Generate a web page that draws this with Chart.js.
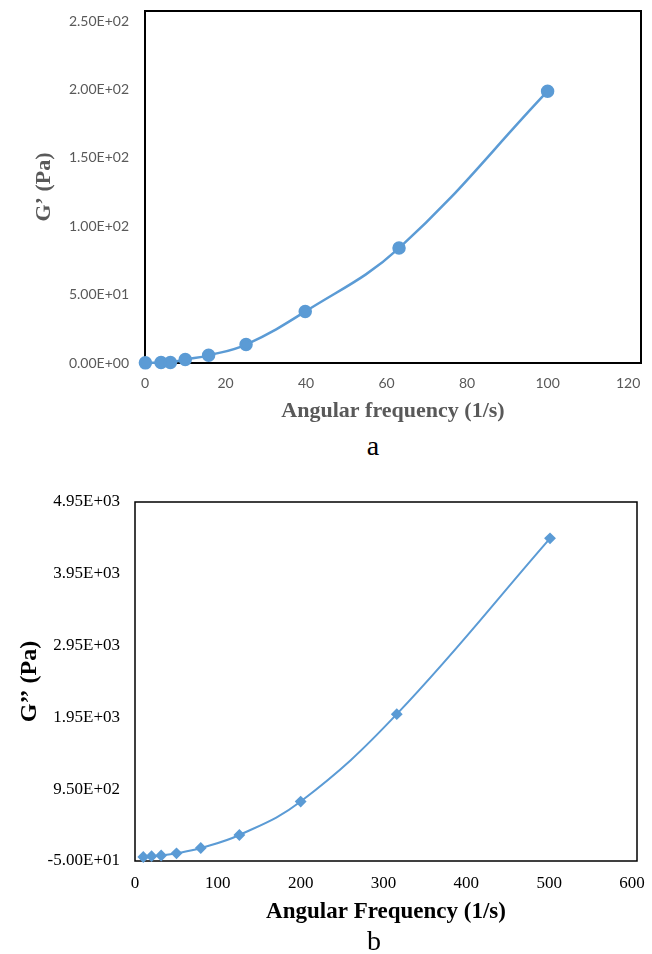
<!DOCTYPE html>
<html>
<head>
<meta charset="utf-8">
<script src="https://cdn.jsdelivr.net/npm/chart.js@4/dist/chart.umd.min.js"></script>
<style>
  html, body { margin: 0; padding: 0; background: #fff; }
  body { width: 652px; height: 954px; position: relative; overflow: hidden; }
  canvas { position: absolute; left: 0; }
  .lbl { position: absolute; font-family: "Liberation Serif", "Times New Roman", serif; font-size: 28px; line-height: 1; color: #000; transform: translate(-50%, -50%); }
</style>
</head>
<body>
<canvas id="c1" width="652" height="430" style="top:0px"></canvas>
<canvas id="c2" width="652" height="462" style="top:480px"></canvas>
<div class="lbl" style="left:373px; top:446px;">a</div>
<div class="lbl" style="left:374px; top:941px;">b</div>
<script>
// ---- Chart a: G' vs angular frequency ----
const freqA = [0.1, 3.98, 6.31, 10, 15.8, 25.1, 39.8, 63.1, 100];
const gPrimeA = [0.1, 0.3, 0.4, 2.5, 5.6, 13.5, 37.6, 84, 198.7];
const xTicksA = [0, 20, 40, 60, 80, 100, 120];
const yTicksA = [0, 50, 100, 150, 200, 250];

// ---- Chart b: G'' vs angular frequency ----
const freqB = [10, 20, 31.6, 50.1, 79.4, 126, 200, 316, 501];
const gDoublePrimeB = [6, 17, 27, 57, 131, 312, 778, 1995, 4444];
const xTicksB = [0, 100, 200, 300, 400, 500, 600];
const yTicksB = [-50, 950, 1950, 2950, 3950, 4950];

function sci(v) {
  const s = Number(v).toExponential(2);
  const parts = s.split('e');
  const sign = parts[1][0];
  const d = parts[1].slice(1).padStart(2, '0');
  return parts[0] + 'E' + sign + d;
}

function noPad(s) {
  s.paddingTop = 0; s.paddingBottom = 0; s.paddingLeft = 0; s.paddingRight = 0;
}

function boxPlugin(width) {
  return {
    id: 'box',
    beforeDatasetsDraw(chart) {
      const a = chart.chartArea;
      const ctx = chart.ctx;
      ctx.save();
      ctx.strokeStyle = '#000';
      ctx.lineWidth = width;
      ctx.strokeRect(a.left, a.top, a.right - a.left, a.bottom - a.top);
      ctx.restore();
    }
  };
}

const blue = '#5B9BD5';

new Chart(document.getElementById('c1'), {
  type: 'scatter',
  data: {
    datasets: [{
      data: freqA.map((x, i) => ({ x: x, y: gPrimeA[i] })),
      showLine: true,
      borderColor: blue,
      backgroundColor: blue,
      borderWidth: 2.5,
      pointRadius: 5.5,
      pointHoverRadius: 5.5,
      pointStyle: 'circle',
      tension: 0.4,
      clip: false
    }]
  },
  options: {
    responsive: false,
    animation: false,
    events: [],
    layout: { padding: { left: 0, top: 11, right: 11, bottom: 0 } },
    plugins: { legend: { display: false }, tooltip: { enabled: false } },
    scales: {
      x: {
        type: 'linear',
        min: 0,
        max: 123.2,
        grid: { display: false, drawTicks: false },
        border: { display: false },
        afterBuildTicks: s => { s.ticks = xTicksA.map(v => ({ value: v })); },
        afterFit: s => { s.height = 67; noPad(s); },
        ticks: {
          padding: 12,
          color: '#595959',
          font: { family: 'Lato', size: 14 },
          maxRotation: 0
        },
        title: {
          display: true,
          text: 'Angular frequency (1/s)',
          color: '#595959',
          font: { family: '"Liberation Serif"', size: 22, weight: 'bold' },
          padding: { top: 0, bottom: 5 }
        }
      },
      y: {
        type: 'linear',
        min: 0,
        max: 257.3,
        grid: { display: false, drawTicks: false },
        border: { display: false },
        afterBuildTicks: s => { s.ticks = yTicksA.map(v => ({ value: v })); },
        afterFit: s => { s.width = 145; noPad(s); },
        ticks: {
          padding: 16,
          color: '#595959',
          font: { family: 'Lato', size: 14 },
          callback: v => sci(v)
        },
        title: {
          display: true,
          text: 'G’ (Pa)',
          color: '#595959',
          font: { family: '"Liberation Serif"', size: 22, weight: 'bold' },
          padding: { top: 31, bottom: 0 }
        }
      }
    }
  },
  plugins: [boxPlugin(2)]
});

new Chart(document.getElementById('c2'), {
  type: 'scatter',
  data: {
    datasets: [{
      data: freqB.map((x, i) => ({ x: x, y: gDoublePrimeB[i] })),
      showLine: true,
      borderColor: blue,
      backgroundColor: blue,
      borderWidth: 2,
      pointRadius: 4.5,
      pointHoverRadius: 4.5,
      pointStyle: 'rectRot',
      tension: 0.4,
      clip: false
    }]
  },
  options: {
    responsive: false,
    animation: false,
    events: [],
    layout: { padding: { left: 0, top: 22, right: 15, bottom: 0 } },
    plugins: { legend: { display: false }, tooltip: { enabled: false } },
    scales: {
      x: {
        type: 'linear',
        min: 0,
        max: 606,
        grid: { display: false, drawTicks: false },
        border: { display: false },
        afterBuildTicks: s => { s.ticks = xTicksB.map(v => ({ value: v })); },
        afterFit: s => { s.height = 81; noPad(s); },
        ticks: {
          padding: 12,
          color: '#000',
          font: { family: '"Liberation Serif"', size: 17 },
          maxRotation: 0
        },
        title: {
          display: true,
          text: 'Angular Frequency (1/s)',
          color: '#000',
          font: { family: '"Liberation Serif"', size: 23, weight: 'bold' },
          padding: { top: 0, bottom: 16 }
        }
      },
      y: {
        type: 'linear',
        min: -50,
        max: 4950,
        grid: { display: false, drawTicks: false },
        border: { display: false },
        afterBuildTicks: s => { s.ticks = yTicksB.map(v => ({ value: v })); },
        afterFit: s => { s.width = 135; noPad(s); },
        ticks: {
          padding: 15,
          color: '#000',
          font: { family: '"Liberation Serif"', size: 17 },
          callback: v => sci(v)
        },
        title: {
          display: true,
          text: 'G’’ (Pa)',
          color: '#000',
          font: { family: '"Liberation Serif"', size: 24, weight: 'bold' },
          padding: { top: 15, bottom: 0 }
        }
      }
    }
  },
  plugins: [boxPlugin(1.5)]
});
</script>
</body>
</html>
